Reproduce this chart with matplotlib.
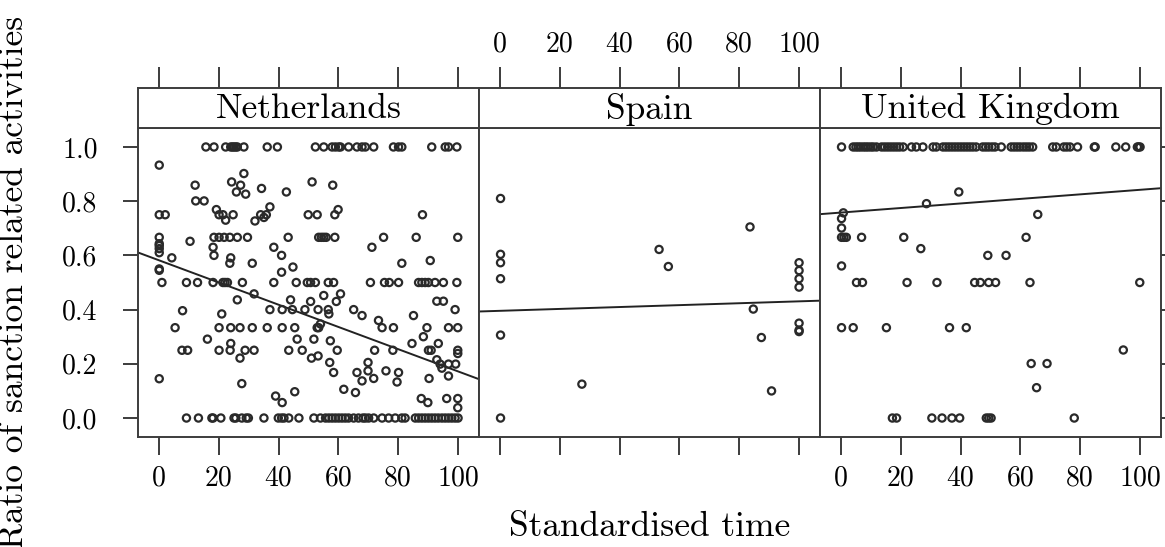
import matplotlib
matplotlib.use("Agg")
import matplotlib.pyplot as plt

plt.rcParams['font.family'] = ['cmr10', 'DejaVu Serif']
plt.rcParams['axes.formatter.use_mathtext'] = True

countries = ['Netherlands', 'Spain', 'United Kingdom']
x_ticks = [0, 20, 40, 60, 80, 100]
y_ticks = [0.0, 0.2, 0.4, 0.6, 0.8, 1.0]
y_tick_labels = ['0.0', '0.2', '0.4', '0.6', '0.8', '1.0']

# Netherlands: points sitting on common ratios, then the scattered rest
nl_at_1 = [15.7, 18.4, 22.3, 24.0, 24.6, 25.1, 25.7, 26.2, 28.4, 36.2, 39.6, 52.3, 55.1, 57.9,
           59.0, 60.1, 60.7, 63.4, 66.2, 67.9, 69.0, 71.8, 78.4, 80.1, 81.2, 91.2, 95.7, 96.8, 99.6]
nl_at_075 = [0.1, 2.1, 20.1, 21.4, 24.8, 34.0, 35.9, 49.9, 52.9, 58.8, 88.1]
nl_at_067 = [0.1, 18.4, 20.1, 21.8, 23.7, 26.2, 29.6, 43.2, 53.4, 54.3, 55.1, 55.9, 58.8, 75.1, 86.0, 99.9]
nl_at_05 = [1.0, 9.2, 12.9, 18.1, 21.4, 22.1, 22.9, 27.9, 38.4, 45.9, 49.6, 50.7, 52.3, 56.6, 58.4,
            70.7, 75.4, 77.0, 80.1, 86.8, 87.9, 89.0, 90.1, 92.3, 95.1, 99.6]
nl_at_04 = [37.1, 41.2, 44.6, 48.8, 53.2, 56.6, 65.1, 99.0]
nl_at_033 = [5.4, 20.1, 24.0, 27.1, 31.2, 36.2, 41.2, 45.4, 52.9, 53.4, 74.6, 78.4, 89.6, 96.8, 99.9]
nl_at_025 = [7.7, 9.6, 20.1, 23.8, 28.8, 31.8, 43.4, 47.9, 59.6, 72.1, 78.2, 90.1, 91.0, 99.9]
nl_at_0 = [9.2, 13.2, 17.7, 18.1, 20.7, 25.1, 25.7, 27.7, 29.2, 29.9, 35.1, 39.9, 41.0, 41.8, 43.4,
           46.8, 51.8, 54.0, 55.7, 56.8, 57.9, 59.0, 60.1, 61.2, 62.3, 63.4, 65.1, 66.7, 68.2, 69.0,
           70.1, 71.8, 74.6, 76.8, 79.0, 81.2, 82.3, 85.7, 86.8, 87.9, 89.0, 90.1, 91.2, 92.3, 93.4,
           94.6, 95.7, 96.8, 97.9, 99.0, 100.0]
nl_x = [0.1, 28.4, 24.3, 51.2, 12.1, 27.3, 58.1, 34.3, 25.9, 42.6, 29.0, 12.3, 15.1, 37.1, 59.9,
        19.2, 35.1, 22.3, 32.1, 10.4, 0.1, 0.1, 0.1, 18.1, 38.4, 71.2, 0.1, 18.4, 41.0, 4.3,
        24.0, 23.7, 31.2, 81.2, 90.7, 44.8, 0.1, 0.1, 41.0, 31.8, 60.7, 55.1, 26.2, 44.0, 92.9,
        95.1, 50.7, 59.3, 7.9, 21.0, 56.8, 67.9, 85.1, 73.4, 54.0, 88.4, 16.2, 46.2, 51.8, 57.3,
        24.0, 84.6, 93.4, 99.9, 53.2, 51.0, 27.1, 92.9, 57.1, 69.9, 94.0, 96.8, 99.2, 94.6, 69.9,
        75.9, 58.4, 66.2, 80.1, 96.8, 0.1, 71.8, 90.3, 67.9, 79.6, 27.7, 61.8, 45.4, 65.7, 39.0,
        87.7, 96.2, 99.9, 41.2, 89.9, 99.9]
nl_y = [0.933, 0.902, 0.871, 0.871, 0.859, 0.859, 0.859, 0.847, 0.834, 0.834, 0.826, 0.801, 0.801,
        0.779, 0.769, 0.769, 0.740, 0.730, 0.727, 0.652, 0.643, 0.636, 0.625, 0.630, 0.630, 0.630,
        0.610, 0.600, 0.600, 0.591, 0.591, 0.571, 0.571, 0.571, 0.581, 0.557, 0.550, 0.545, 0.538,
        0.458, 0.458, 0.452, 0.436, 0.436, 0.431, 0.431, 0.430, 0.430, 0.396, 0.384, 0.384, 0.378,
        0.378, 0.360, 0.347, 0.300, 0.291, 0.291, 0.291, 0.285, 0.275, 0.275, 0.275, 0.238, 0.229,
        0.221, 0.221, 0.215, 0.205, 0.205, 0.199, 0.199, 0.199, 0.184, 0.174, 0.174, 0.168, 0.168,
        0.168, 0.155, 0.145, 0.146, 0.146, 0.137, 0.133, 0.127, 0.106, 0.097, 0.094, 0.081, 0.072,
        0.072, 0.072, 0.057, 0.057, 0.038]

# Spain
es_x = [0.2, 0.2, 0.2, 0.2, 0.2, 0.2, 27.4, 53.2, 56.3, 83.6, 84.7, 87.4, 90.8,
        100.0, 100.0, 100.0, 100.0, 100.0, 100.0, 100.0]
es_y = [0.81, 0.604, 0.573, 0.514, 0.306, 0.0, 0.125, 0.622, 0.559, 0.705, 0.402, 0.297, 0.100,
        0.573, 0.544, 0.514, 0.483, 0.350, 0.324, 0.319]

# United Kingdom
uk_at_1 = [0.2, 4.1, 5.0, 5.8, 6.6, 7.5, 8.3, 9.1, 10.0, 10.8, 11.9, 13.6, 14.6, 15.6, 16.6, 17.6,
           18.6, 19.6, 20.8, 23.6, 25.2, 27.4, 30.8, 31.9, 34.1, 35.1, 36.1, 37.1, 38.1, 39.1, 40.1,
           41.1, 42.1, 43.1, 44.1, 45.2, 47.4, 48.4, 49.4, 50.5, 51.5, 53.6, 56.9, 57.9, 58.9, 59.9,
           61.0, 62.0, 63.0, 64.1, 70.8, 72.0, 74.5, 75.5, 76.6, 79.1, 84.7, 85.0, 91.9, 95.2, 99.1,
           99.5, 100.0]
uk_at_067 = [0.2, 1.0, 1.8, 6.9, 21.0, 61.9]
uk_at_05 = [5.2, 7.2, 22.1, 32.1, 44.7, 46.6, 49.4, 51.7, 63.2, 99.9]
uk_at_033 = [0.2, 4.1, 15.2, 36.3, 41.9]
uk_at_0 = [17.2, 18.6, 30.4, 33.8, 37.1, 39.7, 48.6, 49.4, 50.2, 78.0]
uk_x = [28.6, 39.4, 0.8, 0.2, 0.2, 65.8, 26.7, 49.1, 55.2, 0.2, 94.4, 63.6, 68.9, 65.4]
uk_y = [0.791, 0.834, 0.757, 0.736, 0.701, 0.751, 0.625, 0.600, 0.600, 0.561, 0.251, 0.201, 0.201, 0.112]

# fitted lines: intercept at time 0, slope per unit time
fit_intercept = [0.582, 0.3955, 0.758]
fit_slope = [-0.0041, 0.00035, 0.00084]


def with_rows(x, y, rows):
    xs, ys = list(x), list(y)
    for level, vals in rows:
        xs += vals
        ys += [level] * len(vals)
    return xs, ys


panels = [
    with_rows(nl_x, nl_y, [(1.0, nl_at_1), (0.75, nl_at_075), (2 / 3, nl_at_067), (0.5, nl_at_05),
                           (0.4, nl_at_04), (1 / 3, nl_at_033), (0.25, nl_at_025), (0.0, nl_at_0)]),
    (es_x, es_y),
    with_rows(uk_x, uk_y, [(1.0, uk_at_1), (2 / 3, uk_at_067), (0.5, uk_at_05),
                           (1 / 3, uk_at_033), (0.0, uk_at_0)]),
]

W, H = 1165, 547
frame_col = '#3c3c3c'
tick_size = 20
big_size = 25.5
fig = plt.figure(figsize=(W / 100, H / 100), dpi=100)

for i, name in enumerate(countries):
    left = (138 + 341 * i) / W
    width = 341 / W
    ax = fig.add_axes([left, 110 / H, width, 309 / H])
    xs, ys = panels[i]
    ax.scatter(xs, ys, s=27, facecolors='none', edgecolors='#2a2a2a', linewidths=1.6, zorder=3)
    ax.axline((0, fit_intercept[i]), slope=fit_slope[i], color='#222222', lw=1.4, zorder=2)
    ax.set_xlim(-7, 107)
    ax.set_ylim(-0.07, 1.07)
    for sp in ax.spines.values():
        sp.set_color(frame_col)
        sp.set_linewidth(1.4)
    ax.set_xticks(x_ticks)
    if i == 1:
        ax.set_xticklabels([])
    else:
        ax.set_xticklabels([str(t) for t in x_ticks])
    ax.tick_params(axis='x', direction='out', length=13, width=1.4, pad=7,
                   labelsize=tick_size, color=frame_col)
    ax.set_yticks(y_ticks)
    if i == 0:
        ax.set_yticklabels(y_tick_labels)
        ax.tick_params(axis='y', direction='out', length=11, width=1.4, pad=18,
                       labelsize=tick_size, color=frame_col)
    elif i == 2:
        ax.yaxis.tick_right()
        ax.set_yticklabels([])
        ax.tick_params(axis='y', direction='out', length=11, width=1.4, color=frame_col)
    else:
        ax.tick_params(axis='y', left=False, labelleft=False)

    # strip with the country name, top ticks above it
    st = fig.add_axes([left, 419 / H, width, 40 / H])
    st.set_xlim(-7, 107)
    st.set_ylim(0, 1)
    st.set_yticks([])
    for sp in st.spines.values():
        sp.set_color(frame_col)
        sp.set_linewidth(1.4)
    st.xaxis.tick_top()
    st.set_xticks(x_ticks)
    if i == 1:
        st.set_xticklabels([str(t) for t in x_ticks])
    else:
        st.set_xticklabels([])
    st.tick_params(axis='x', direction='out', length=15, width=1.4, pad=7,
                   labelsize=tick_size, color=frame_col)
    st.text(50, 0.47, name, ha='center', va='center', fontsize=big_size)

fig.text(650 / W, 1 - 527 / H, 'Standardised time', ha='center', va='center', fontsize=big_size)
fig.text(14 / W, 1 - 282 / H, 'Ratio of sanction related activities', ha='center', va='center',
         rotation=90, fontsize=big_size)

fig.savefig('out.png', dpi=100)
